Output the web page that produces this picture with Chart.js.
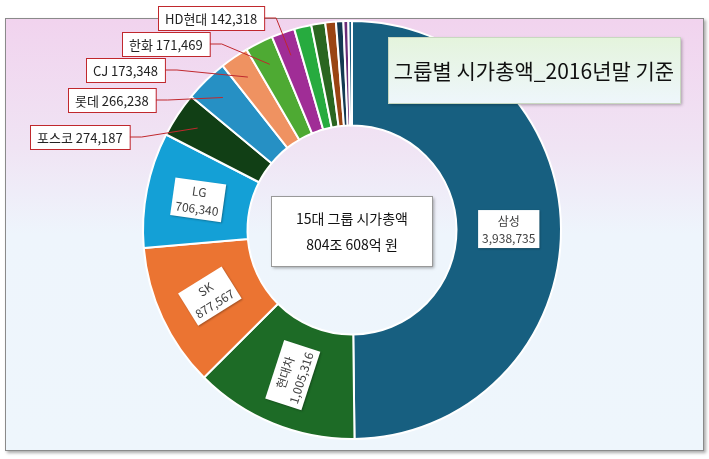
<!DOCTYPE html>
<html><head><meta charset="utf-8">
<script src="https://cdn.jsdelivr.net/npm/chart.js@4"></script>
<style>
html,body{margin:0;padding:0;background:#fff;}
#wrap{position:relative;width:709px;height:459px;}
#frame{position:absolute;left:5px;top:18px;width:697px;height:431px;border:1px solid #8a8a8a;
background:linear-gradient(#f1d3ee 0%,#f0e4f4 30%,#eef5fc 50%,#eef6fc 100%);box-shadow:2px 2px 3px #aaa;}
canvas{position:absolute;left:0;top:0;}
</style></head><body>
<div id="wrap"><div id="frame"></div><canvas id="c" width="709" height="459"></canvas></div>
<script>
const groups=['삼성','현대차','SK','LG','포스코','롯데','CJ','한화','HD현대','G10','G11','G12','G13','G14','G15'];
const values=[3938735,1005316,877567,706340,274187,266238,173348,171469,142318,105000,85000,65000,45000,30000,22000];
const colors=['#175f80','#1d6b26','#eb7432','#14a0d6','#113f15','#2690c4','#ef9261','#4eaa33','#a02d96','#27ab3f','#2a6620','#9a4413','#143a52','#6b2c77','#1a5f80'];
const fmt=v=>v.toLocaleString('en-US');
const inner={0:[0,0],1:[-72,0],2:[-32,0],3:[8,0]};
const outerBoxes={4:[30,125],5:[68,88],6:[86,58],7:[122,32],8:[158,6]};
const plugin={id:'lbl',afterDatasetsDraw(ch){
 const ctx=ch.ctx,meta=ch.getDatasetMeta(0);
 meta.data.forEach((arc,i)=>{
  const {x,y,startAngle,endAngle,innerRadius,outerRadius}=arc.getProps(['x','y','startAngle','endAngle','innerRadius','outerRadius'],true);
  const a=(startAngle+endAngle)/2,r=(innerRadius+outerRadius)/2;
  const px=x+Math.cos(a)*r,py=y+Math.sin(a)*r;
  ctx.save();
  if(inner[i]){
   ctx.translate(px,py);ctx.rotate(inner[i][0]*Math.PI/180);
   ctx.font='12px "Liberation Sans Narrow","Noto Sans CJK KR",sans-serif';
   const w=Math.max(ctx.measureText(fmt(values[i])).width,ctx.measureText(groups[i]).width)+8;
   ctx.shadowColor='rgba(0,0,0,0.3)';ctx.shadowOffsetX=1;ctx.shadowOffsetY=1;ctx.shadowBlur=2;
   ctx.fillStyle='#fff';ctx.fillRect(-w/2,-19,w,38);ctx.shadowColor='transparent';
   ctx.fillStyle='#404040';ctx.textAlign='center';ctx.textBaseline='middle';
   ctx.fillText(groups[i],0,-8);ctx.fillText(fmt(values[i]),0,9);
  } else if(outerBoxes[i]){
   const [bx,by]=outerBoxes[i];
   ctx.font='13px "Liberation Sans Narrow","Noto Sans CJK KR",sans-serif';
   const t=groups[i]+' '+fmt(values[i]);const w=ctx.measureText(t).width+14,h=24;
   const lx=x+Math.cos(a)*(outerRadius-24),ly=y+Math.sin(a)*(outerRadius-24);
   ctx.strokeStyle='#c0282d';ctx.lineWidth=1;ctx.beginPath();
   ctx.moveTo(bx+w,by+h/2);ctx.lineTo(bx+w+12,by+h/2);ctx.lineTo(lx,ly);ctx.stroke();
   ctx.fillStyle='#fff';ctx.fillRect(bx,by,w,h);ctx.strokeRect(bx+0.5,by+0.5,w,h);
   ctx.fillStyle='#222';ctx.textBaseline='middle';ctx.fillText(t,bx+7,by+h/2+1);
  }
  ctx.restore();
 });
 ctx.save();ctx.shadowColor='rgba(0,0,0,0.35)';ctx.shadowOffsetX=2;ctx.shadowOffsetY=2;ctx.shadowBlur=3;
 ctx.fillStyle='#fff';ctx.fillRect(271,196,161,70);ctx.shadowColor='transparent';
 ctx.strokeStyle='#999';ctx.strokeRect(271.5,196.5,161,70);
 ctx.fillStyle='#111';ctx.font='14px "Liberation Sans Narrow","Noto Sans CJK KR",sans-serif';ctx.textAlign='center';ctx.textBaseline='middle';
 ctx.fillText('15대 그룹 시가총액',352,219);ctx.fillText('804조 608억 원',352,245);
 ctx.shadowColor='rgba(0,0,0,0.3)';ctx.shadowOffsetX=2;ctx.shadowOffsetY=2;ctx.shadowBlur=3;
 const g=ctx.createLinearGradient(0,37,0,103);g.addColorStop(0,'#e4f4dc');g.addColorStop(1,'#eef6fb');
 ctx.fillStyle=g;ctx.fillRect(388,37,292,66);ctx.shadowColor='transparent';
 ctx.strokeStyle='#c8d8c0';ctx.strokeRect(388.5,37.5,292,66);
 ctx.fillStyle='#111';ctx.font='21px "Liberation Sans Narrow","Noto Sans CJK KR",sans-serif';
 ctx.fillText('그룹별 시가총액_2016년말 기준',534,71);
 ctx.restore();
}};
new Chart(document.getElementById('c'),{type:'doughnut',
 data:{labels:groups,datasets:[{data:values,backgroundColor:colors,borderColor:'#fff',borderWidth:2}]},
 options:{responsive:false,animation:false,cutout:'50%',layout:{padding:{left:142,right:147,top:20,bottom:19}},
  plugins:{legend:{display:false},tooltip:{enabled:false}}},
 plugins:[plugin]});
</script></body></html>
